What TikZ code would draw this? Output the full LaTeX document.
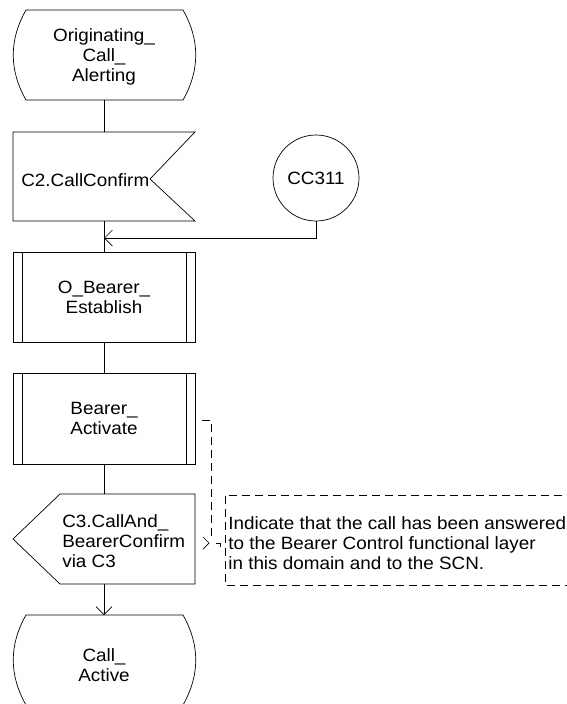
\documentclass[tikz,border=0pt]{standalone}
\usepackage{fontspec}
\setmainfont{Liberation Sans}[FakeStretch=1.06]
\usetikzlibrary{arrows.meta}
\begin{document}
\begin{tikzpicture}[x=1pt,y=-1pt,line width=0.7pt,
  lbl/.style={font=\fontsize{17.8}{20}\selectfont,align=center,inner sep=0pt},
  sym/.style={draw=black,line width=0.7pt},
  flow/.style={draw=black,line width=0.7pt},
  barb/.style={-{Straight Barb[length=8pt,width=16pt,line width=0.7pt]}},
  cmt/.style={draw=black,line width=0.7pt,dash pattern=on 8pt off 5pt}]
\useasboundingbox (0,0) rectangle (567,704);

% start state
\draw[sym] (26,10) -- (183,10) .. controls (200,40) and (200,70) .. (183,100) -- (26,100) .. controls (9,70) and (9,40) .. (26,10) -- cycle;
\node[lbl] (s1) at (104,57) {Originating\_\\Call\_\\Alerting};
\coordinate (s1b) at (104,100);

% C2 input
\draw[sym] (13,132) -- (195,132) -- (150,179) -- (195,221) -- (13,221) -- cycle;
\node[lbl,anchor=west] (c2) at (21,180) {C2.CallConfirm};
\coordinate (c2t) at (104,132);
\coordinate (c2b) at (104,221);

% connector CC311
\node[draw=black,circle,minimum size=86pt,inner sep=0pt,font=\fontsize{17.8}{20}\selectfont] (cc) at (316,178) {CC311};
\coordinate (j1) at (104,238);

% O_Bearer_Establish
\draw[sym] (13,252) rectangle (195,342);
\draw[sym] (22.5,252) -- (22.5,342);
\draw[sym] (186,252) -- (186,342);
\node[lbl] (ob) at (104,297) {O\_Bearer\_\\Establish};
\coordinate (obt) at (104,252);
\coordinate (obb) at (104,342);

% Bearer_Activate
\draw[sym] (13,373) rectangle (195,464);
\draw[sym] (22.5,373) -- (22.5,464);
\draw[sym] (186,373) -- (186,464);
\node[lbl] (ba) at (104,418) {Bearer\_\\Activate};
\coordinate (bat) at (104,373);
\coordinate (bab) at (104,464);
\coordinate (bar) at (202,420);

% C3 output
\draw[sym] (60,494) -- (195,494) -- (195,584) -- (60,584) -- (13,539) -- cycle;
\node[lbl,anchor=west,align=left] (c3) at (62,541) {C3.CallAnd\_\\BearerConfirm\\via C3};
\coordinate (c3t) at (104,494);
\coordinate (c3b) at (104,584);

% end state
\draw[sym] (26,615) -- (183,615) .. controls (200,645) and (200,675) .. (183,705) -- (26,705) .. controls (9,675) and (9,645) .. (26,615) -- cycle;
\node[lbl] (ea) at (104,665) {Call\_\\Active};
\coordinate (eat) at (104,615);

% flow lines
\draw[flow] (s1b) -- (c2t);
\draw[flow] (c2b) -- (obt);
\draw[flow,barb] (cc.south) |- (j1);
\draw[flow] (obb) -- (bat);
\draw[flow] (bab) -- (c3t);
\draw[flow,barb] (c3b) -- (eat);

% comment
\coordinate (cd) at (211,537);
\draw[cmt] (bar) -- (211,420) -- (cd);
\draw[sym] (203,537) -- (209,543) -- (203,549);
\draw[sym] (216,543) -- (220,543) -- (220,547);
\draw[cmt] (575,495) -- (225,495) -- (225,585) -- (575,585);
\node[lbl,anchor=west,align=left] (cm) at (228,543) {Indicate that the call has been answered\\to the Bearer Control functional layer\\in this domain and to the SCN.};
\end{tikzpicture}
\end{document}
